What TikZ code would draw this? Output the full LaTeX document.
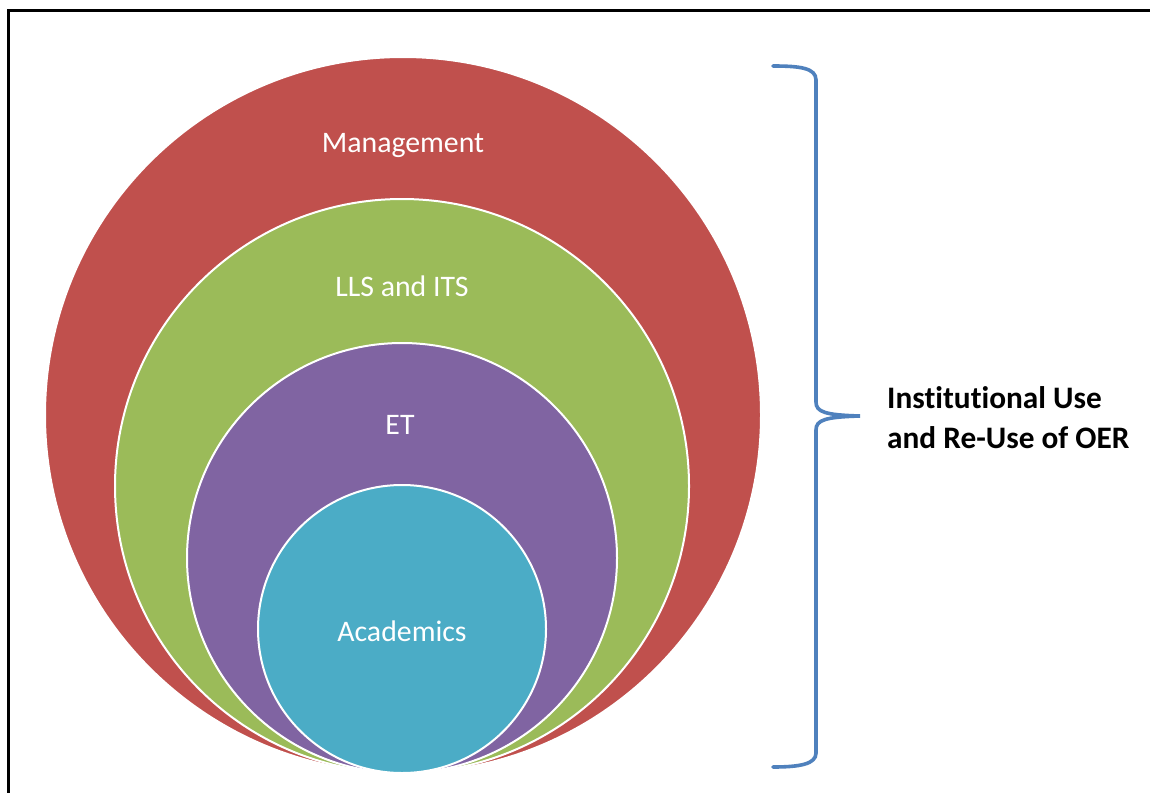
\documentclass[tikz,border=0pt]{standalone}
\usepackage{fontspec}
\setmainfont{Carlito}[Ligatures=NoCommon]
\definecolor{cred}{HTML}{C0504D}
\definecolor{cgreen}{HTML}{9BBB59}
\definecolor{cpurple}{HTML}{8064A2}
\definecolor{ccyan}{HTML}{4BACC6}
\definecolor{cblue}{HTML}{4F81BD}
\begin{document}
\begin{tikzpicture}[x=1pt,y=-1pt,
  ring/.style={circle,draw=white,line width=2pt,inner sep=0pt},
  lab/.style={text=white,font=\fontsize{29.8}{34}\selectfont,inner sep=0pt},
  side/.style={font=\bfseries\fontsize{31.3}{40}\selectfont,align=left,inner sep=0pt,anchor=west}]
\useasboundingbox (0,0) rectangle (1150,792);
\fill[white] (0,0) rectangle (1150,792);
\draw[line width=3pt] (8,795) -- (8,11) -- (1152,11);
\node[ring,fill=cred,minimum size=716pt] (red) at (403,415) {};
\node[ring,fill=cgreen,minimum size=574pt] (green) at (402,486) {};
\node[ring,fill=cpurple,minimum size=430pt] (purple) at (402,558) {};
\node[ring,fill=ccyan,minimum size=288pt] (cyan) at (402,629) {};
\node[lab] (lm) at (403,145) {Management};
\node[lab] (ll) at (402,286) {LLS and ITS};
\node[lab] (le) at (400,425) {ET};
\node[lab] (la) at (402,631) {Academics};
\coordinate (bt) at (773,66);
\coordinate (bb) at (773,767);
\coordinate (tip) at (860,416);
\draw[cblue,line width=3.6pt,line cap=round]
  (bt) .. controls (800,66) and (816,68) .. (816,80)
  -- (816,402) .. controls (816,412) and (825,415) .. (tip)
  .. controls (825,417) and (816,420) .. (816,430)
  -- (816,753) .. controls (816,764) and (800,767) .. (bb);
\node[side] (txt) at (887,418) {Institutional Use\\and Re-Use of OER};
\end{tikzpicture}
\end{document}
